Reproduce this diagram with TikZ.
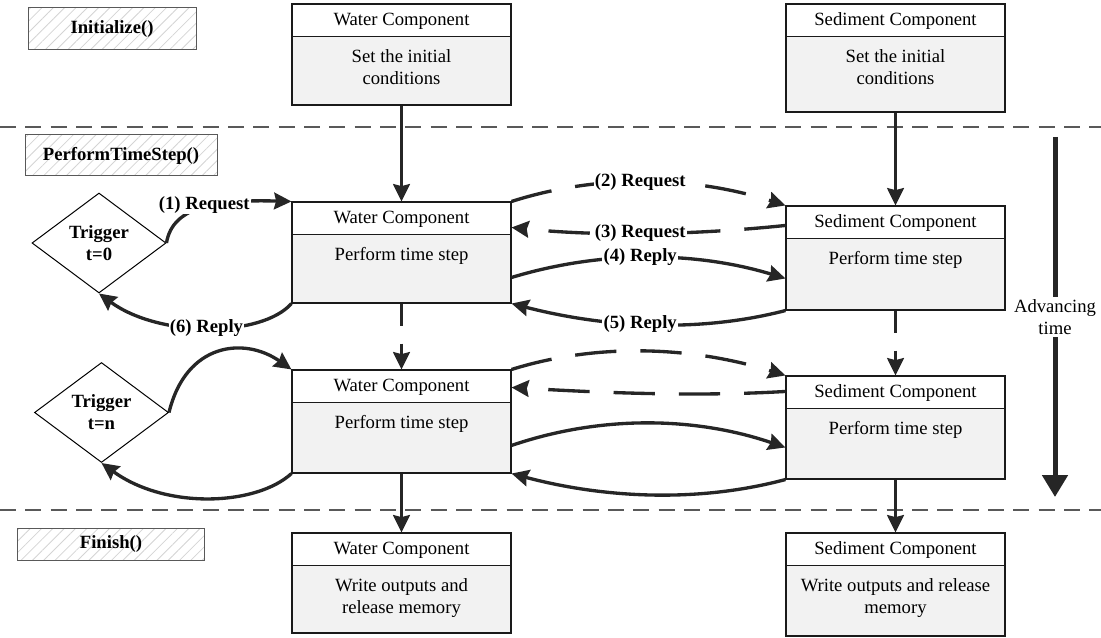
\documentclass[tikz,border=0pt]{standalone}
\usepackage{fontspec}
\setmainfont{Liberation Serif}
\usetikzlibrary{arrows.meta,shapes.geometric,patterns.meta,calc}
\definecolor{conncol}{HTML}{262626}
\definecolor{boxline}{HTML}{1A1A1A}
\definecolor{bodygray}{HTML}{F2F2F2}
\definecolor{sepgray}{HTML}{595959}
\definecolor{hatchgray}{HTML}{D4D4D4}
\definecolor{lblline}{HTML}{595959}
\newcommand\fsz{\fontsize{14pt}{16.5pt}\selectfont}
\begin{document}
\begin{tikzpicture}[x=0.75pt,y=-0.75pt, font=\fsz,
  compbox/.style={draw=boxline, fill=bodygray, line width=0.8pt, minimum width=164.25pt, inner sep=0pt},
  hdrbox/.style={draw=boxline, fill=white, line width=0.8pt, minimum width=164.25pt, minimum height=24.4pt, inner sep=0pt, anchor=north, text height=0.75em, text depth=0pt},
  bodytext/.style={anchor=north, align=center, inner sep=0pt, yshift=-9.3pt},
  trig/.style={diamond, draw=black, line width=0.75pt, fill=white, minimum width=100.5pt, minimum height=75pt, inner sep=0pt, align=center, font=\fsz\bfseries},
  phasebox/.style={draw=lblline, line width=0.75pt, pattern={Lines[angle=45,distance=6pt,line width=0.6pt]}, pattern color=hatchgray, inner sep=0pt, font=\fsz\bfseries},
  sepline/.style={draw=sepgray, line width=1.5pt, dash pattern=on 12pt off 7pt},
  arrowtip/.style={-{Stealth[length=13pt,width=12.5pt,inset=1.5pt]}},
  conn/.style={draw=conncol, line width=2.5pt, arrowtip},
  dconn/.style={conn, dash pattern=on 31pt off 18pt},
  vdconn/.style={conn, dash pattern=on 16.5pt off 13.5pt},
  elabel/.style={fill=white, inner sep=1pt, font=\fsz\bfseries},
  advarrow/.style={draw=conncol, line width=3.75pt, -{Triangle[length=16.5pt,width=18.75pt]}}
]
\useasboundingbox (0,0) rectangle (1101,638);

% separators
\coordinate (sepAl) at (0,127); \coordinate (sepAr) at (1101,127);
\coordinate (sepBl) at (0,510); \coordinate (sepBr) at (1101,510);
\draw[sepline] (sepAl) -- (sepAr);
\draw[sepline] (sepBl) -- (sepBr);

% phase labels
\node[phasebox, minimum width=126pt, minimum height=31.5pt] (init) at (112,29) {Initialize()};
\node[phasebox, minimum width=144pt, minimum height=30.75pt] (pts) at (121,155.5) {PerformTimeStep()};
\node[phasebox, minimum width=140.6pt, minimum height=24pt] (fin) at (111,544) {Finish()};

% water components
\node[compbox, minimum height=75.75pt] (W1) at (401.5,54.5) {};
\node[hdrbox] (W1h) at (W1.north) {Water Component};
\node[bodytext] (W1t) at (W1h.south) {Set the initial\\conditions};

\node[compbox, minimum height=75.75pt] (W2) at (401.5,252.5) {};
\node[hdrbox] (W2h) at (W2.north) {Water Component};
\node[bodytext] (W2t) at (W2h.south) {Perform time step};

\node[compbox, minimum height=77.25pt] (W3) at (401.5,421.5) {};
\node[hdrbox] (W3h) at (W3.north) {Water Component};
\node[bodytext] (W3t) at (W3h.south) {Perform time step};

\node[compbox, minimum height=75pt] (W4) at (401.5,583) {};
\node[hdrbox] (W4h) at (W4.north) {Water Component};
\node[bodytext] (W4t) at (W4h.south) {Write outputs and\\release memory};

% sediment components
\node[compbox, minimum height=81pt] (S1) at (895.5,58) {};
\node[hdrbox] (S1h) at (S1.north) {Sediment Component};
\node[bodytext] (S1t) at (S1h.south) {Set the initial\\conditions};

\node[compbox, minimum height=78pt] (S2) at (895.5,258) {};
\node[hdrbox] (S2h) at (S2.north) {Sediment Component};
\node[bodytext] (S2t) at (S2h.south) {Perform time step};

\node[compbox, minimum height=77.25pt] (S3) at (895.5,427.5) {};
\node[hdrbox] (S3h) at (S3.north) {Sediment Component};
\node[bodytext] (S3t) at (S3h.south) {Perform time step};

\node[compbox, minimum height=77.25pt] (S4) at (895.5,584.5) {};
\node[hdrbox] (S4h) at (S4.north) {Sediment Component};
\node[bodytext] (S4t) at (S4h.south) {Write outputs and release\\memory};

% triggers
\node[trig] (t0) at (99,243) {Trigger\\t=0};
\node[trig] (tn) at (101.5,412.5) {Trigger\\t=n};

% vertical connectors
\draw[conn] (W1.south) -- (W2.north);
\draw[conn] (S1.south) -- (S2.north);
\draw[vdconn] (W2.south) -- (W3.north);
\draw[vdconn] (S2.south) -- (S3.north);
\draw[conn] (W3.south) -- (W4.north);
\draw[conn] (S3.south) -- (S4.north);

% time step 0
\draw[conn] (t0.east) .. controls +(6,-38) and +(-72,-2) .. node[elabel, pos=0.5, yshift=2pt] (l1) {(1) Request} (W2.north west);
\draw[conn] (W2.south west) .. controls +(-30,34) and +(60,44) .. node[elabel] (l6) {(6) Reply} (t0.south);
\draw[dconn] (W2.north east) .. controls +(90,-28.7) and +(-90,-28.7) .. node[elabel, pos=0.47] (l2) {(2) Request} (S2.north west);
\draw[dconn] ($(S2.north west)+(0,20)$) .. controls +(-90,9.3) and +(90,9.3) .. node[elabel, pos=0.53] (l3) {(3) Request} ($(W2.north east)+(0,26)$);
\draw[conn] ($(W2.north east)+(0,76)$) .. controls +(90,-27.3) and +(-90,-27.3) .. node[elabel, pos=0.47] (l4) {(4) Reply} ($(S2.north west)+(0,73)$);
\draw[conn] (S2.south west) .. controls +(-90,23.3) and +(90,23.3) .. node[elabel, pos=0.53] (l5) {(5) Reply} (W2.south east);

% time step n
\draw[conn] (tn.east) .. controls +(17,-70) and +(-47,-33) .. (W3.north west);
\draw[conn] (W3.south west) .. controls +(-35,32) and +(65,47) .. (tn.south);
\draw[dconn] (W3.north east) .. controls +(90,-28) and +(-90,-28) .. (S3.north west);
\draw[dconn] ($(S3.north west)+(0,16)$) .. controls +(-90,5.3) and +(90,5.3) .. ($(W3.north east)+(0,18)$);
\draw[conn] ($(W3.north east)+(0,76)$) .. controls +(90,-30.7) and +(-90,-30.7) .. ($(S3.north west)+(0,72)$);
\draw[conn] (S3.south west) .. controls +(-90,24) and +(90,24) .. (W3.south east);

% advancing time
\coordinate (advtop) at (1055,137);
\coordinate (advbot) at (1055,497);
\draw[advarrow] (advtop) -- node[fill=white, inner sep=2pt, align=center, font=\fsz] (advlbl) {Advancing\\time} (advbot);
\end{tikzpicture}
\end{document}
